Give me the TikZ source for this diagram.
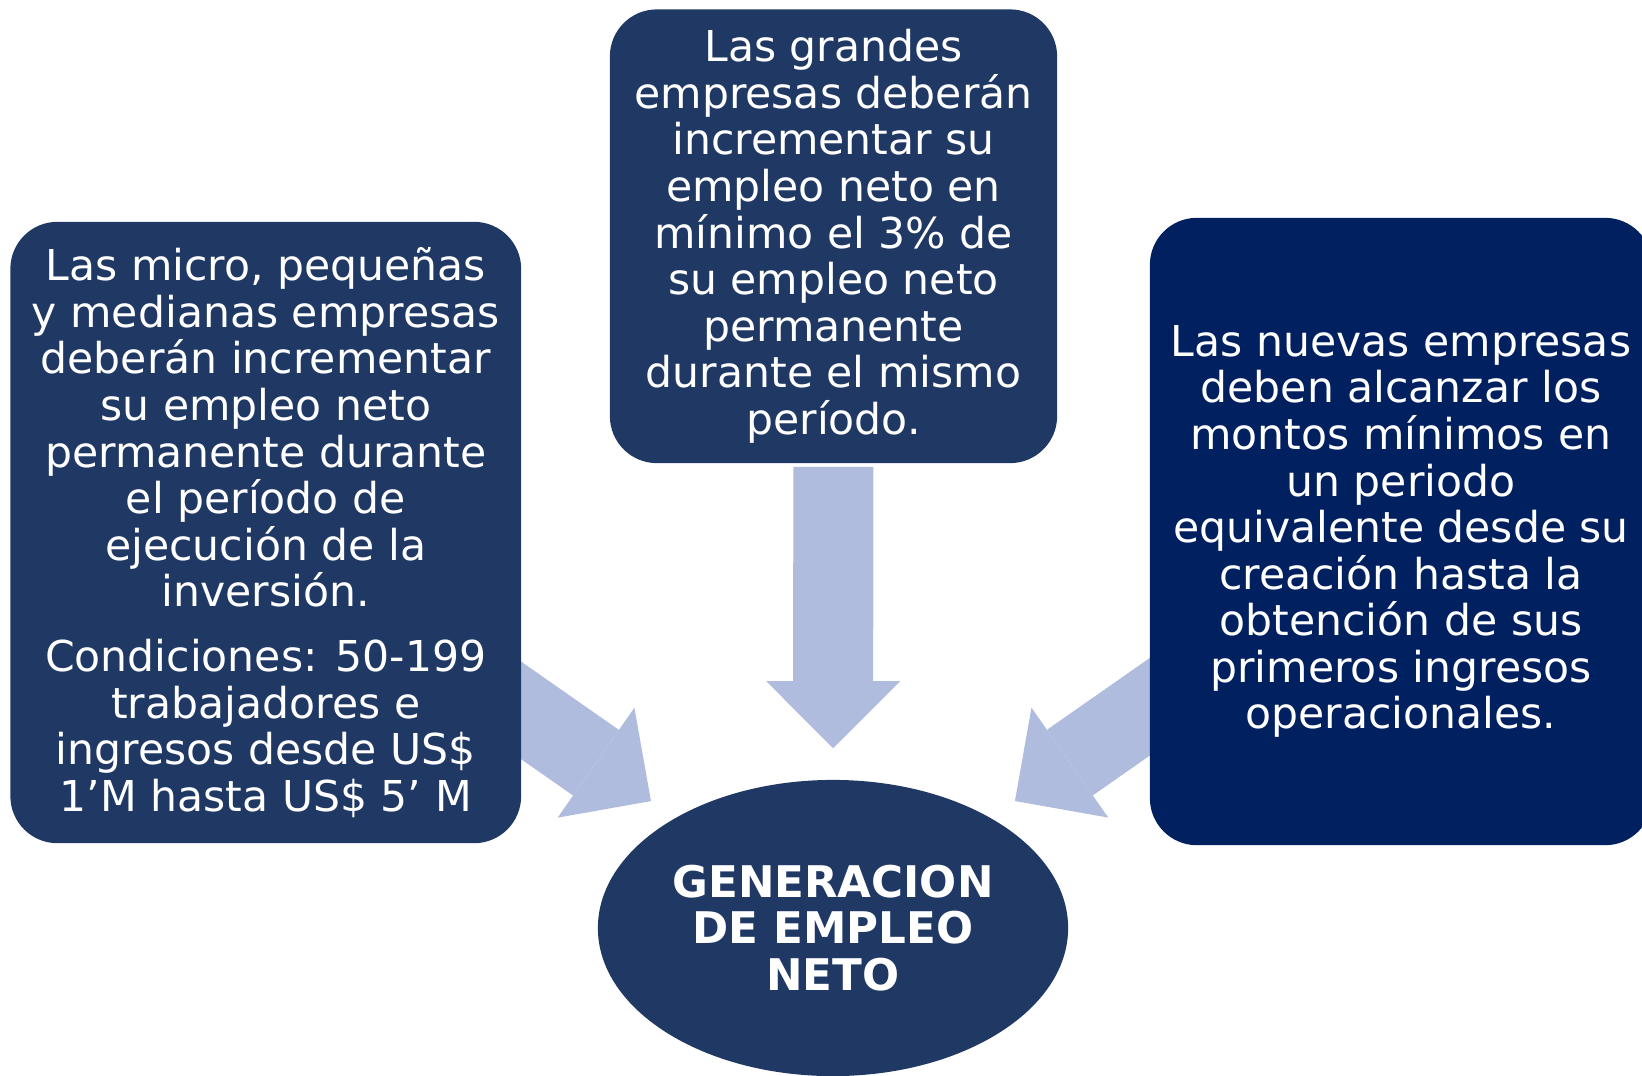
\documentclass[tikz,border=0pt]{standalone}
\usepackage{fontspec}
\setmainfont{DejaVu Sans}
\usetikzlibrary{arrows.meta,shapes.geometric,backgrounds}

\definecolor{boxblue}{RGB}{32,56,100}
\definecolor{navyblue}{RGB}{0,32,96}
\definecolor{arrowblue}{RGB}{175,188,222}

\begin{document}
\begin{tikzpicture}[x = 0.01cm, y = -0.01cm,
                      box/.style = {rectangle, rounded corners = 0.47cm, fill = boxblue, text = white,
                                    align = center, inner sep = 0pt,
                                    font = \fontsize{12.1}{13.25}\selectfont},
                      oval/.style = {ellipse, fill = boxblue, text = white, align = center, inner sep = 0pt,
                                     font = \fontsize{12.4}{13.3}\selectfont\bfseries},
                      bigarrow/.style = {line width = 0.8cm, draw = arrowblue,
                                         -{Triangle[length = 0.67cm, width = 1.34cm, line width' = 0pt]}}]
    \useasboundingbox (0, 0) rectangle (1642, 1075);

    \node [box, minimum width = 5.105cm, minimum height = 6.21cm] (box1) at (265.75, 532.5)
        {Las micro, pequeñas\\ y medianas empresas\\ deberán incrementar\\ su empleo neto\\
         permanente durante\\ el período de\\ ejecución de la\\ inversión.\\[0.18cm]
         Condiciones: 50-199\\ trabajadores e\\ ingresos desde US\$\\ 1’M hasta US\$ 5’ M};
    \node [box, minimum width = 4.47cm, minimum height = 4.535cm] (box2) at (833.5, 236.25)
        {Las grandes\\ empresas deberán\\ incrementar su\\ empleo neto en\\ mínimo el 3\% de\\
         su empleo neto\\ permanente\\ durante el mismo\\ período.};
    \node [box, fill = navyblue, minimum width = 5.02cm, minimum height = 6.27cm] (box3) at (1401, 531.5)
        {Las nuevas empresas\\ deben alcanzar los\\ montos mínimos en\\ un periodo\\ equivalente desde su\\
         creación hasta la\\ obtención de sus\\ primeros ingresos\\ operacionales.};
    \node [oval, minimum width = 4.7cm, minimum height = 2.96cm] (gen) at (833, 928)
        {GENERACION\\ DE EMPLEO\\ NETO};

    \begin{scope}[on background layer]
    \draw [bigarrow, shorten < = -0.5cm, shorten > = 0.29cm] (box1) -- (gen);
    \draw [bigarrow, shorten < = 0.03cm, shorten > = 0.31cm] (box2) -- (gen);
    \draw [bigarrow, shorten < = -0.5cm, shorten > = 0.29cm] (box3) -- (gen);
    \end{scope}
\end{tikzpicture}
\end{document}
